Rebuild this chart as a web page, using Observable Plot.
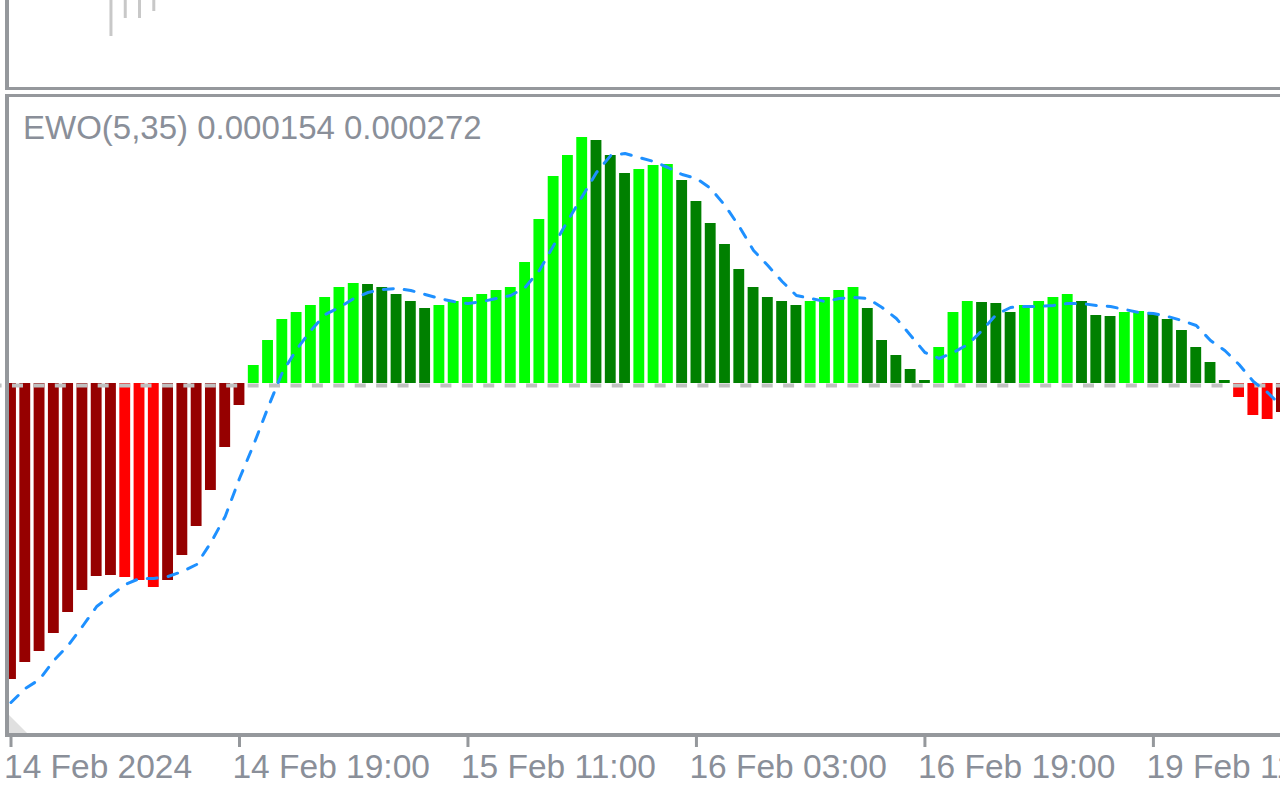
<!DOCTYPE html>
<html>
<head>
<meta charset="utf-8">
<script src="https://cdn.jsdelivr.net/npm/d3@7"></script>
<script src="https://cdn.jsdelivr.net/npm/@observablehq/plot@0.6"></script>
<style>
html, body { margin: 0; padding: 0; background: #fff; overflow: hidden; width: 1280px; height: 800px; }
#wrap { position: relative; width: 1280px; height: 800px; overflow: hidden; }
#wrap > svg { position: absolute; left: 0; background: transparent; }
.bd { position: absolute; background: #95989c; }
</style>
</head>
<body>
<div id="wrap"></div>
<script>
// ---- data ----
const ewoValues = [
  -0.00296,-0.00279,-0.00268,-0.00250,-0.00229,-0.00207,-0.00193,-0.00192,-0.00194,-0.00197,
  -0.00204,-0.00197,-0.00172,-0.00143,-0.00107,-0.00064,-0.00022, 0.00018, 0.00043, 0.00064,
   0.00071, 0.00078, 0.00086, 0.00096, 0.00100, 0.00099, 0.00096, 0.00089, 0.00082, 0.00075,
   0.00078, 0.00082, 0.00086, 0.00089, 0.00093, 0.00096, 0.00121, 0.00164, 0.00207, 0.00228,
   0.00246, 0.00243, 0.00228, 0.00210, 0.00214, 0.00218, 0.00219, 0.00203, 0.00182, 0.00160,
   0.00139, 0.00114, 0.00096, 0.00086, 0.00082, 0.00078, 0.00082, 0.00086, 0.00093, 0.00096,
   0.00075, 0.00043, 0.00028, 0.00014, 0.00003, 0.00036, 0.00071, 0.00082, 0.00081, 0.00080,
   0.00071, 0.00078, 0.00082, 0.00086, 0.00089, 0.00082, 0.00068, 0.00067, 0.00071, 0.00072,
   0.00069, 0.00064, 0.00053, 0.00036, 0.00021, 0.00003,-0.00014,-0.00032,-0.00036,-0.00029
];
const signalValues = [
  -0.00319,-0.00305,-0.00296,-0.00277,-0.00262,-0.00243,-0.00223,-0.00212,-0.00201,-0.00195,
  -0.00195,-0.00193,-0.00188,-0.00181,-0.00159,-0.00133,-0.00095,-0.00061,-0.00024, 0.00011,
   0.00034, 0.00053, 0.00069, 0.00076, 0.00085, 0.00091, 0.00094, 0.00095, 0.00093, 0.00089,
   0.00085, 0.00082, 0.00080, 0.00082, 0.00085, 0.00088, 0.00096, 0.00113, 0.00138, 0.00163,
   0.00187, 0.00211, 0.00228, 0.00230, 0.00226, 0.00222, 0.00216, 0.00209, 0.00205, 0.00195,
   0.00178, 0.00157, 0.00133, 0.00118, 0.00102, 0.00088, 0.00085, 0.00082, 0.00085, 0.00086,
   0.00085, 0.00076, 0.00065, 0.00048, 0.00031, 0.00025, 0.00031, 0.00039, 0.00053, 0.00069,
   0.00076, 0.00077, 0.00077, 0.00078, 0.00080, 0.00080, 0.00078, 0.00077, 0.00074, 0.00071,
   0.00070, 0.00067, 0.00063, 0.00058, 0.00043, 0.00033, 0.00019, 0.00002,-0.00009,-0.00023
];
const tickIndex = [0, 16, 32, 48, 64, 80];
const tickLabels = ["14 Feb 2024", "14 Feb 19:00", "15 Feb 11:00", "16 Feb 03:00", "16 Feb 19:00", "19 Feb 11:00"];
const candleIndex = [7, 8, 9, 10];
const candleLow = [1.07001, 1.07019, 1.07019, 1.07026];
const candleHigh = [1.07180, 1.07150, 1.07120, 1.07110];
const titleText = "EWO(5,35) 0.000154 0.000272";

(function () {
  // ---- styles ----
  const FONT = "'Liberation Sans', Arial, sans-serif";
  const TEXT = "#8a8f99";
  const BORDER = "#95989c";
  const COLORS = { negUp: "#960000", negDown: "#ff0000", posUp: "#00ff00", posDown: "#008000" };
  const STEP = 14.28;
  const X_DOMAIN = [-10.5 / STEP, (1280 - 10.5) / STEP];

  const bars = ewoValues.map((v, i) => ({ i, v, up: i === 0 || v >= ewoValues[i - 1] }));
  const sig = signalValues.map((v, i) => ({ i, v }));
  const colorOf = d => d.v >= 0 ? (d.up ? COLORS.posUp : COLORS.posDown) : (d.up ? COLORS.negUp : COLORS.negDown);
  const candles = candleIndex.map((i, k) => ({ i, low: candleLow[k], high: candleHigh[k] }));

  const wrap = document.getElementById("wrap");

  const mainPlot = Plot.plot({
    width: 1280, height: 800,
    marginTop: 97, marginBottom: 63, marginLeft: 0, marginRight: 0,
    style: { background: "transparent", fontFamily: FONT },
    x: { domain: X_DOMAIN, axis: null, label: null },
    y: { domain: [-0.00354, 0.00286], axis: null, label: null },
    color: { type: "identity" },
    marks: [
      Plot.rect(bars, { x1: d => d.i - 0.38, x2: d => d.i + 0.38, y1: 0, y2: "v", fill: colorOf, clip: true }),
      Plot.ruleY([0], { stroke: "#c0c0c0", strokeWidth: 4, dy: 2, strokeDasharray: "11 10.42", strokeDashoffset: 9.42 }),
      Plot.line(sig, { x: "i", y: "v", stroke: "#1e90ff", strokeWidth: 3, strokeDasharray: "10 11", clip: true }),
      Plot.text([titleText], { frameAnchor: "top-left", dx: 22.5, dy: 18, lineAnchor: "top", textAnchor: "start",
        fontSize: 33, fontFamily: FONT, fill: TEXT }),
      Plot.axisX(tickIndex, { anchor: "bottom", tickSize: 10, stroke: BORDER, strokeWidth: 3, fill: "none", label: null }),
      Plot.axisX(tickIndex, { anchor: "bottom", tickSize: 10, tickPadding: 7, stroke: "none", fill: TEXT,
        tickFormat: d => tickLabels[tickIndex.indexOf(d)], textAnchor: "start", dx: -7,
        fontSize: 33.5, fontFamily: FONT, label: null })
    ]
  });
  mainPlot.style.top = "0px";
  wrap.appendChild(mainPlot);

  const pricePlot = Plot.plot({
    width: 1280, height: 87, margin: 0,
    style: { background: "transparent" },
    x: { domain: X_DOMAIN, axis: null, label: null },
    y: { domain: [1.06950, 1.07037], axis: null, label: null },
    marks: [
      Plot.ruleX(candles, { x: "i", y1: "low", y2: "high", stroke: "#c8c8c8", strokeWidth: 3, clip: true })
    ]
  });
  pricePlot.style.top = "0px";
  wrap.appendChild(pricePlot);

  // panel frames (chrome)
  function box(l, t, w, h, bg) {
    const d = document.createElement("div");
    d.className = "bd";
    Object.assign(d.style, { left: l + "px", top: t + "px", width: w + "px", height: h + "px" });
    if (bg) d.style.background = bg;
    wrap.appendChild(d);
    return d;
  }
  box(5, 0, 4, 90);        // top panel left
  box(5, 87, 1275, 3);     // top panel bottom
  box(5, 94, 1275, 3);     // indicator top
  box(5, 94, 4, 643);      // indicator left
  box(5, 733, 1275, 4);    // indicator bottom / time axis
  const tri = box(9, 715, 18, 18, "#e0e0e0");
  tri.style.clipPath = "polygon(0 0, 0 100%, 100% 100%)";
})();
</script>
</body>
</html>
